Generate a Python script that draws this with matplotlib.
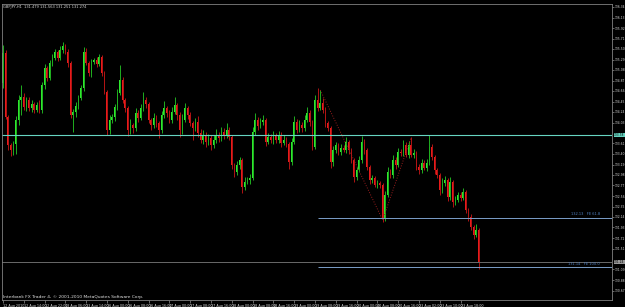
import matplotlib

matplotlib.use("Agg")
import matplotlib.pyplot as plt
import numpy as np

# GBPJPY H1 bars (prices)
first_open = 134.82
closes = [
    135.42, 134.14, 133.58, 133.48, 133.60, 134.08, 134.48, 134.54, 134.34, 134.48,
    134.32, 134.40, 134.28, 134.38, 134.28, 134.78, 135.12, 134.92, 135.22, 135.32,
    135.44, 135.32, 135.48, 135.56, 135.44, 135.22, 134.18, 134.24, 134.36, 134.52,
    134.72, 135.44, 135.22, 135.02, 135.24, 135.28, 135.20, 135.34, 135.02, 134.64,
    133.88, 134.08, 134.14, 134.34, 134.62, 134.88, 134.48, 134.32, 133.88, 133.98,
    133.92, 134.22, 134.12, 134.32, 134.48, 134.40, 134.08, 133.98, 134.12, 134.02,
    133.88, 134.18, 134.32, 134.22, 134.08, 134.24, 134.38, 134.18, 133.88, 134.08,
    134.32, 134.18, 134.02, 133.92, 134.04, 133.82, 133.68, 133.78, 133.64, 133.72,
    133.58, 133.68, 133.78, 133.72, 133.84, 133.78, 133.88, 133.74, 133.18, 133.04,
    133.18, 133.28, 132.74, 132.84, 132.88, 132.92, 133.84, 134.08, 133.96, 134.04,
    134.08, 133.64, 133.74, 133.68, 133.76, 133.68, 133.78, 133.62, 133.68, 133.60,
    133.24, 133.64, 134.04, 133.88, 133.98, 133.92, 134.08, 134.22, 134.04, 133.54,
    134.48, 134.32, 134.42, 134.28, 134.02, 133.92, 133.24, 133.48, 133.58, 133.44,
    133.52, 133.48, 133.64, 133.48, 133.28, 132.94, 133.08, 133.28, 133.64, 133.48,
    133.14, 132.88, 132.92, 132.78, 132.82, 132.78, 132.12, 132.58, 133.04, 132.98,
    133.28, 133.18, 133.44, 133.42, 133.58, 133.38, 133.58, 133.38, 133.42, 133.14,
    133.08, 133.22, 133.12, 133.22, 133.54, 133.34, 133.08, 132.98, 132.68, 132.82,
    132.88, 132.54, 132.84, 132.44, 132.48, 132.58, 132.52, 132.64, 132.28, 132.14,
    131.94, 131.78, 131.88, 131.24,
]
wick_up = [
    0.16, 0.06, 0.04, 0.04, 0.06, 0.08, 0.10, 0.24, 0.08, 0.06,
    0.06, 0.08, 0.04, 0.06, 0.10, 0.06, 0.08, 0.04, 0.06, 0.08,
    0.06, 0.04, 0.08, 0.08, 0.04, 0.06, 0.04, 0.06, 0.08, 0.06,
    0.06, 0.10, 0.08, 0.04, 0.06, 0.04, 0.06, 0.06, 0.04, 0.04,
    0.04, 0.10, 0.06, 0.06, 0.08, 0.30, 0.06, 0.04, 0.04, 0.12,
    0.04, 0.10, 0.06, 0.08, 0.16, 0.06, 0.04, 0.04, 0.10, 0.06,
    0.04, 0.08, 0.14, 0.04, 0.06, 0.10, 0.16, 0.04, 0.06, 0.12,
    0.10, 0.04, 0.06, 0.04, 0.08, 0.12, 0.08, 0.10, 0.06, 0.08,
    0.06, 0.10, 0.12, 0.06, 0.10, 0.08, 0.14, 0.06, 0.04, 0.04,
    0.08, 0.06, 0.04, 0.10, 0.06, 0.08, 0.10, 0.14, 0.06, 0.08,
    0.10, 0.04, 0.08, 0.06, 0.10, 0.06, 0.08, 0.06, 0.10, 0.06,
    0.04, 0.08, 0.12, 0.06, 0.10, 0.06, 0.10, 0.12, 0.06, 0.04,
    0.10, 0.24, 0.26, 0.10, 0.06, 0.04, 0.04, 0.08, 0.06, 0.04,
    0.08, 0.06, 0.10, 0.04, 0.04, 0.04, 0.06, 0.08, 0.12, 0.06,
    0.04, 0.04, 0.06, 0.04, 0.06, 0.04, 0.04, 0.08, 0.10, 0.06,
    0.10, 0.06, 0.08, 0.06, 0.10, 0.06, 0.08, 0.16, 0.08, 0.04,
    0.06, 0.08, 0.06, 0.08, 0.24, 0.06, 0.04, 0.04, 0.04, 0.10,
    0.08, 0.04, 0.10, 0.04, 0.08, 0.06, 0.06, 0.08, 0.04, 0.04,
    0.06, 0.04, 0.12, 0.04,
]
wick_dn = [
    0.10, 0.04, 0.10, 0.12, 0.10, 0.20, 0.10, 0.30, 0.06, 0.08,
    0.06, 0.08, 0.06, 0.04, 0.06, 0.06, 0.08, 0.06, 0.04, 0.06,
    0.04, 0.06, 0.04, 0.06, 0.04, 0.08, 0.06, 0.34, 0.10, 0.06,
    0.04, 0.06, 0.04, 0.06, 0.08, 0.04, 0.06, 0.04, 0.06, 0.04,
    0.10, 0.08, 0.06, 0.08, 0.06, 0.04, 0.06, 0.08, 0.12, 0.08,
    0.10, 0.06, 0.08, 0.04, 0.06, 0.08, 0.06, 0.10, 0.06, 0.08,
    0.16, 0.06, 0.06, 0.08, 0.06, 0.06, 0.04, 0.10, 0.14, 0.08,
    0.04, 0.08, 0.06, 0.24, 0.06, 0.08, 0.06, 0.08, 0.10, 0.06,
    0.10, 0.06, 0.06, 0.08, 0.06, 0.08, 0.06, 0.06, 0.08, 0.10,
    0.06, 0.08, 0.12, 0.06, 0.04, 0.08, 0.04, 0.06, 0.08, 0.04,
    0.06, 0.08, 0.04, 0.06, 0.08, 0.06, 0.06, 0.08, 0.04, 0.06,
    0.14, 0.06, 0.04, 0.06, 0.04, 0.08, 0.06, 0.04, 0.08, 0.06,
    0.04, 0.06, 0.04, 0.06, 0.08, 0.06, 0.12, 0.08, 0.06, 0.06,
    0.06, 0.04, 0.06, 0.08, 0.06, 0.10, 0.06, 0.04, 0.06, 0.08,
    0.06, 0.08, 0.06, 0.04, 0.06, 0.06, 0.08, 0.06, 0.04, 0.06,
    0.06, 0.08, 0.04, 0.06, 0.06, 0.04, 0.06, 0.04, 0.06, 0.06,
    0.08, 0.06, 0.04, 0.06, 0.04, 0.06, 0.08, 0.06, 0.10, 0.06,
    0.06, 0.08, 0.06, 0.10, 0.06, 0.04, 0.06, 0.04, 0.06, 0.08,
    0.06, 0.08, 0.04, 0.14,
]

time_tick_bars = list(range(0, 184, 8))
time_labels = [
    "12 Aug 2010", "12 Aug 14:00", "12 Aug 22:00", "13 Aug 06:00", "13 Aug 14:00",
    "16 Aug 00:00", "16 Aug 08:00", "16 Aug 16:00", "17 Aug 00:00", "17 Aug 08:00",
    "17 Aug 16:00", "18 Aug 00:00", "18 Aug 08:00", "18 Aug 16:00", "19 Aug 00:00",
    "19 Aug 08:00", "19 Aug 16:00", "20 Aug 00:00", "20 Aug 08:00", "20 Aug 16:00",
    "23 Aug 02:00", "23 Aug 10:00", "23 Aug 18:00",
]
price_ticks = [
    136.34, 136.13, 135.92, 135.71, 135.50, 135.29, 135.08, 134.87, 134.66, 134.45,
    134.24, 134.03, 133.61, 133.40, 133.19, 132.98, 132.77, 132.56, 132.35,
    132.14, 131.93, 131.72, 131.51, 131.09, 130.88, 130.67,
]

# drawn objects
level_line = 133.78
bid_price = 131.24
zigzag_bars = [122, 146, 157]
zigzag_prices = [134.68, 132.08, 133.74]
fibo_start_bar = 121
fibo_levels = [132.13, 131.14]
fibo_texts = ["132.13   FE 61.8", "131.14   FE 100.0"]

header = "GBPJPY,H1  131.479 131.563 131.251 131.274"
copyright_text = "Interbank FX Trader 4, \u00a9 2001-2010 MetaQuotes Software Corp."

opens = [first_open] + closes[:-1]
o = np.array(opens)
c = np.array(closes)
highs = np.maximum(o, c) + np.array(wick_up)
lows = np.minimum(o, c) - np.array(wick_dn)
idx = np.arange(len(closes))
up = c >= o

fig = plt.figure(figsize=(6.25, 3.07), dpi=100, facecolor="black")
ax = fig.add_axes([2 / 625, 7 / 307, 610 / 625, 296 / 307], facecolor="black")

ax.vlines(idx[up], lows[up], highs[up], color="#1fae1f", lw=0.7)
ax.vlines(idx[~up], lows[~up], highs[~up], color="#b01414", lw=0.7)
ax.bar(idx[up], (c - o)[up], bottom=o[up], width=0.7, color="#2ee82e", linewidth=0)
ax.bar(idx[~up], (c - o)[~up], bottom=o[~up], width=0.7, color="#e81a1a", linewidth=0)

ax.axhline(level_line, color="#66d4c1", lw=0.8)
ax.axhline(bid_price, color="#6a6a6a", lw=0.7)
ax.plot(zigzag_bars, zigzag_prices, color="#9a1e1e", ls=":", lw=0.7)
for lvl, txt in zip(fibo_levels, fibo_texts):
    ax.hlines(lvl, fibo_start_bar, 240, color="#7b9ec9", lw=0.7)
    ax.text(0.98, lvl + 0.02, txt, transform=ax.get_yaxis_transform(),
            ha="right", va="bottom", fontsize=2.6, color="#4f7fbf")

ax.set_xlim(-0.4, 234.2)
ax.set_ylim(130.48, 136.40)

ax.yaxis.tick_right()
ax.set_yticks(price_ticks)
ax.set_yticklabels([f"{p:.2f}" for p in price_ticks])
ax.tick_params(axis="y", colors="#909090", labelcolor="#d8d8d8", labelsize=2.2,
               length=1.5, width=0.5, pad=0.4)
ax.set_xticks(time_tick_bars)
ax.set_xticklabels(time_labels)
ax.tick_params(axis="x", colors="#909090", labelcolor="#d8d8d8", labelsize=2.4,
               length=2, width=0.5, pad=0.6)
for lbl in ax.get_xticklabels():
    lbl.set_ha("left")

for s in ax.spines.values():
    s.set_color("#808080")
    s.set_linewidth(0.6)

# highlighted price labels on the right scale
for val, bg in [(level_line, "#66d4c1"), (bid_price, "#9a9a9a")]:
    ax.annotate(f"{val:.2f}", xy=(1.0, val), xycoords=("axes fraction", "data"),
                xytext=(1.4, 0), textcoords="offset points", ha="left", va="center",
                fontsize=2.2, color="black",
                bbox=dict(boxstyle="square,pad=0.1", fc=bg, ec="none"))

fig.text(3 / 625, 1 - 7 / 307, header, fontsize=2.6, color="#d8d8d8", va="center")
fig.text(3 / 625, 1 - 297 / 307, copyright_text, fontsize=3.2, color="#e0e0e0", va="center")

fig.savefig("out.png", dpi=100, facecolor="black")
